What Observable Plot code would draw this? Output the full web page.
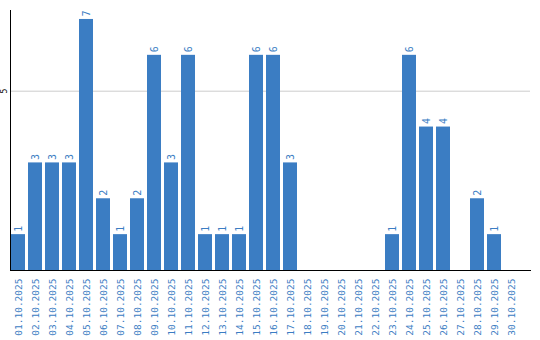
<!DOCTYPE html>
<html>
<head>
<meta charset="utf-8">
<script src="https://cdn.jsdelivr.net/npm/d3@7"></script>
<script src="https://cdn.jsdelivr.net/npm/@observablehq/plot@0.6"></script>
<style>
  html, body { margin: 0; padding: 0; background: #fff; }
  #chart svg { display: block; }
</style>
</head>
<body>
<div id="chart"></div>
<script>
const dates = ["01.10.2025","02.10.2025","03.10.2025","04.10.2025","05.10.2025","06.10.2025","07.10.2025","08.10.2025","09.10.2025","10.10.2025","11.10.2025","12.10.2025","13.10.2025","14.10.2025","15.10.2025","16.10.2025","17.10.2025","18.10.2025","19.10.2025","20.10.2025","21.10.2025","22.10.2025","23.10.2025","24.10.2025","25.10.2025","26.10.2025","27.10.2025","28.10.2025","29.10.2025","30.10.2025"];
const counts = [1,3,3,3,7,2,1,2,6,3,6,1,1,1,6,6,3,0,0,0,0,0,1,6,4,4,0,2,1,0];
const yTicks = [5];

const blue = "#3b7dc3";
const data = dates.map((d, i) => ({date: d, count: counts[i]}));

const chart = Plot.plot({
  width: 540,
  height: 340,
  marginTop: 10,
  marginLeft: 10,
  marginRight: 10,
  marginBottom: 70,
  style: {fontFamily: "'DejaVu Sans Mono', monospace", background: "#fff"},
  x: {domain: dates, paddingInner: 0.18, paddingOuter: 0.35, align: 0, insetLeft: 1, axis: null},
  y: {domain: [0, 7.25], axis: null},
  marks: [
    Plot.gridY(yTicks, {stroke: "#cccccc", strokeOpacity: 1}),
    Plot.barY(data, {x: "date", y: "count", fill: blue}),
    Plot.text(data.filter(d => d.count > 0), {
      x: "date", y: "count", text: d => String(d.count),
      rotate: -90, textAnchor: "start", dy: -3, fill: blue, fontSize: 10
    }),
    Plot.axisX({tickSize: 0, tickPadding: 8, tickRotate: -90, color: blue, fontSize: 9.5, label: null}),
    Plot.axisY(yTicks, {tickSize: 0, tickPadding: 4, tickRotate: -90, color: "#000", fontSize: 8, label: null}),
    Plot.frame({anchor: "left", stroke: "#000"}),
    Plot.frame({anchor: "bottom", stroke: "#000"})
  ]
});
document.getElementById("chart").appendChild(chart);
</script>
</body>
</html>
